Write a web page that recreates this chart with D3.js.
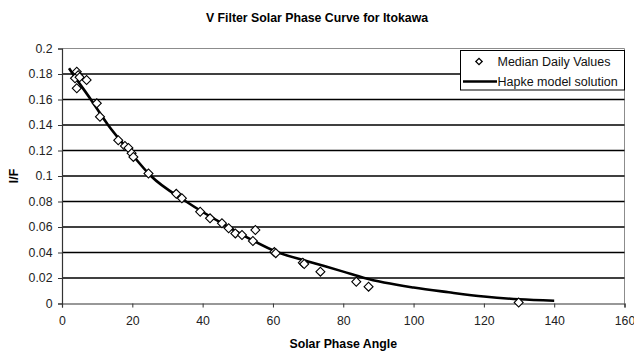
<!DOCTYPE html>
<html>
<head>
<meta charset="utf-8">
<script src="https://cdn.jsdelivr.net/npm/d3@7"></script>
<style>
  html, body { margin: 0; padding: 0; background: #fff; }
  svg { display: block; font-family: "Liberation Sans", Arial, sans-serif; }
</style>
</head>
<body>
<svg id="chart" width="634" height="351"></svg>
<script>
// Median daily I/F measurements (V filter) against solar phase angle
const medianPhase = [4.2, 4.6, 3.7, 5.0, 7.0, 4.2, 9.9, 10.8, 16.0, 17.9, 18.9, 19.8, 20.3, 24.6,
  32.5, 34.1, 39.3, 42.1, 45.5, 47.4, 49.3, 51.2, 54.3, 55.0, 60.4, 60.8, 68.5, 68.9, 73.5,
  83.7, 87.2, 129.9];
const medianIF = [0.1818, 0.179, 0.1766, 0.1775, 0.1753, 0.1688, 0.157, 0.1465, 0.128, 0.1235,
  0.122, 0.1178, 0.115, 0.102, 0.086, 0.0825, 0.072, 0.0668, 0.0629, 0.059, 0.055, 0.0537,
  0.049, 0.0576, 0.0403, 0.0395, 0.032, 0.031, 0.025, 0.0171, 0.0132, 0.0008];

// Hapke model solution
const modelPhase = [2, 3.1, 8.2, 13.1, 19.0, 25.3, 35.3, 47.4, 61.5, 70, 80, 86, 100, 110, 120, 130, 140];
const modelIF = [0.1845, 0.18, 0.16, 0.14, 0.12, 0.10, 0.08, 0.06, 0.04, 0.033, 0.025, 0.02,
  0.0125, 0.0088, 0.0055, 0.0033, 0.0022];

const xTicks = [0, 20, 40, 60, 80, 100, 120, 140, 160];
const yTicks = [0, 0.02, 0.04, 0.06, 0.08, 0.1, 0.12, 0.14, 0.16, 0.18, 0.2];

const chartTitle = "V Filter Solar Phase Curve for Itokawa";
const xTitle = "Solar Phase Angle";
const yTitle = "I/F";
const legendLabels = ["Median Daily Values", "Hapke model solution"];

const svg = d3.select("#chart");
const plot = { left: 62, right: 624.5, top: 48.5, bottom: 303.5 };
const fontSize = 12.3;

const x = d3.scaleLinear().domain([0, 160]).range([plot.left, plot.right]);
const y = d3.scaleLinear().domain([0, 0.2]).range([plot.bottom, plot.top]);

// plot area frame (top and right)
svg.append("path")
  .attr("d", `M${plot.left},${plot.top}H${plot.right}V${plot.bottom}`)
  .attr("fill", "none").attr("stroke", "#8c8c8c").attr("stroke-width", 1);

// horizontal gridlines
svg.append("g").selectAll("line")
  .data(yTicks.filter(t => t > 0 && t < 0.2))
  .join("line")
  .attr("x1", plot.left).attr("x2", plot.right)
  .attr("y1", d => y(d)).attr("y2", d => y(d))
  .attr("stroke", "#000").attr("stroke-width", 1.6);

// axes
const xAxis = svg.append("g")
  .attr("transform", `translate(0,${plot.bottom})`)
  .call(d3.axisBottom(x).tickValues(xTicks).tickSize(4).tickPadding(9).tickFormat(d3.format("d")));
const yAxis = svg.append("g")
  .attr("transform", `translate(${plot.left},0)`)
  .call(d3.axisLeft(y).tickValues(yTicks).tickSize(4).tickPadding(5.5).tickFormat(d => d === 0 ? "0" : String(+d.toFixed(2))));

[xAxis, yAxis].forEach(g => {
  g.select(".domain").attr("stroke", "#333").attr("stroke-width", 1.2);
  g.selectAll(".tick line").attr("stroke", "#333");
  g.selectAll(".tick text").attr("fill", "#222").attr("font-size", fontSize)
    .attr("font-family", "'Liberation Sans', Arial, sans-serif");
});

// model curve
const line = d3.line()
  .x((d, i) => x(modelPhase[i]))
  .y((d, i) => y(modelIF[i]))
  .curve(d3.curveMonotoneX);
svg.append("path")
  .datum(modelIF)
  .attr("d", line)
  .attr("fill", "none").attr("stroke", "#000").attr("stroke-width", 2.6);

// diamond markers
const diamond = d3.symbol().type(d3.symbolSquare).size(40);
svg.append("g").selectAll("path")
  .data(medianIF)
  .join("path")
  .attr("d", diamond)
  .attr("transform", (d, i) => `translate(${x(medianPhase[i])},${y(d)}) rotate(45)`)
  .attr("fill", "#fff").attr("stroke", "#000").attr("stroke-width", 1.1);

// titles
svg.append("text").attr("x", 317).attr("y", 21.5).attr("text-anchor", "middle")
  .attr("font-size", fontSize).attr("font-weight", "bold").text(chartTitle);
svg.append("text").attr("x", (plot.left + plot.right) / 2).attr("y", 347.5).attr("text-anchor", "middle")
  .attr("font-size", fontSize).attr("font-weight", "bold").text(xTitle);
svg.append("text").attr("transform", `translate(18,${(plot.top + plot.bottom) / 2}) rotate(-90)`)
  .attr("text-anchor", "middle")
  .attr("font-size", fontSize).attr("font-weight", "bold").text(yTitle);

// legend
const lg = svg.append("g");
lg.append("rect").attr("x", 460.5).attr("y", 50.5).attr("width", 164).attr("height", 39.5)
  .attr("fill", "#fff").attr("stroke", "#000").attr("stroke-width", 1);
lg.append("path").attr("d", d3.symbol().type(d3.symbolSquare).size(20))
  .attr("transform", "translate(479,61.5) rotate(45)")
  .attr("fill", "#fff").attr("stroke", "#000").attr("stroke-width", 1.3);
lg.append("line").attr("x1", 463).attr("x2", 497).attr("y1", 81.5).attr("y2", 81.5)
  .attr("stroke", "#000").attr("stroke-width", 2.6);
lg.selectAll("text").data(legendLabels).join("text")
  .attr("x", 497.5).attr("y", (d, i) => 66 + i * 20)
  .attr("font-size", 12.5).attr("fill", "#111").text(d => d);
</script>
</body>
</html>
